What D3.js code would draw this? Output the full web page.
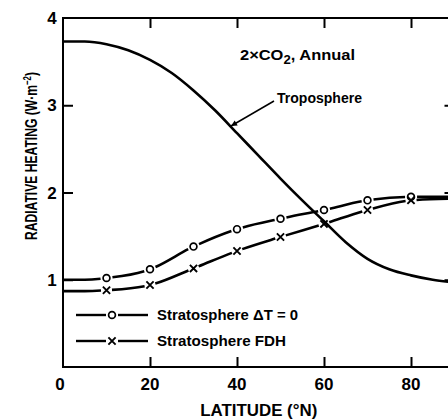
<!DOCTYPE html>
<html>
<head>
<meta charset="utf-8">
<script src="https://cdn.jsdelivr.net/npm/d3@7"></script>
<style>
  html, body { margin: 0; padding: 0; background: #fff; }
  svg { display: block; }
  text { font-family: "Liberation Sans", Arial, sans-serif; font-weight: bold; fill: #000; }
</style>
</head>
<body>
<svg id="chart" width="448" height="419"></svg>
<script>
// ---- data ----
const tropoLat = [0, 5, 10, 15, 20, 25, 30, 35, 40, 45, 50, 55, 60, 65, 70, 75, 80, 85, 90];
const tropoVal = [3.73, 3.73, 3.70, 3.63, 3.52, 3.37, 3.17, 2.94, 2.68, 2.42, 2.16, 1.91, 1.67, 1.43, 1.24, 1.12, 1.05, 1.00, 0.97];

const stratLat = [0, 5, 10, 20, 30, 40, 50, 60, 70, 80, 90];
const stratDT0 = [1.00, 1.00, 1.02, 1.12, 1.38, 1.58, 1.70, 1.80, 1.91, 1.95, 1.95];
const stratFDH = [0.87, 0.87, 0.88, 0.94, 1.13, 1.33, 1.49, 1.64, 1.80, 1.91, 1.93];
const markerLat = [10, 20, 30, 40, 50, 60, 70, 80];

const xTicks = [0, 20, 40, 60, 80];
const yTicks = [1, 2, 3, 4];
const legendLabels = ["Stratosphere \u0394T = 0", "Stratosphere FDH"];

// ---- layout ----
const svg = d3.select("#chart");
const mLeft = 63, mTop = 18, mRight = 454.5, mBottom = 367;
const x = d3.scaleLinear().domain([0, 90]).range([mLeft, mRight]);
const y = d3.scaleLinear().domain([0, 4]).range([mBottom, mTop]);

// frame
svg.append("rect").attr("x", mLeft).attr("y", mTop).attr("width", mRight - mLeft).attr("height", mBottom - mTop)
  .attr("stroke", "#000").attr("stroke-width", 2).attr("fill", "none");

// inward ticks via d3 axes
const tl = 10;
function styleTicks(g) { g.select(".domain").remove(); g.selectAll("line").attr("stroke-width", 2); }
svg.append("g").attr("transform", `translate(0,${mBottom})`)
  .call(d3.axisTop(x).tickValues(xTicks.filter(d => d > 0)).tickSize(tl).tickFormat(""))
  .call(styleTicks);
svg.append("g").attr("transform", `translate(0,${mTop})`)
  .call(d3.axisBottom(x).tickValues(xTicks.filter(d => d > 0)).tickSize(tl).tickFormat(""))
  .call(styleTicks);
svg.append("g").attr("transform", `translate(${mLeft},0)`)
  .call(d3.axisRight(y).tickValues(yTicks.filter(d => d < 4)).tickSize(tl).tickFormat(""))
  .call(styleTicks);
svg.append("g").attr("transform", `translate(${mRight},0)`)
  .call(d3.axisLeft(y).tickValues(yTicks.filter(d => d < 4)).tickSize(tl).tickFormat(""))
  .call(styleTicks);

// tick labels
svg.append("g").selectAll("text").data(xTicks).join("text")
  .attr("x", d => x(d) - (d === 0 ? 3 : 0)).attr("y", 390)
  .attr("text-anchor", "middle").attr("font-size", 17).text(d => d);
svg.append("g").selectAll("text").data(yTicks).join("text")
  .attr("x", 52).attr("y", d => y(d) + 6)
  .attr("text-anchor", "middle").attr("font-size", 17).text(d => d);

// axis titles
svg.append("text").attr("x", (mLeft + mRight) / 2).attr("y", 416)
  .attr("text-anchor", "middle").attr("font-size", 17)
  .attr("textLength", 117).attr("lengthAdjust", "spacingAndGlyphs")
  .text("LATITUDE (\u00B0N)");
const yt = svg.append("text").attr("transform", "translate(37,156) rotate(-90)")
  .attr("text-anchor", "middle").attr("font-size", 17)
  .attr("textLength", 168).attr("lengthAdjust", "spacingAndGlyphs");
yt.append("tspan").text("RADIATIVE HEATING (W\u00B7m");
yt.append("tspan").attr("dy", -6).attr("font-size", 11).text("\u22122");
yt.append("tspan").attr("dy", 6).text(")");

// curves
const line = d3.line().x(d => x(d[0])).y(d => y(d[1])).curve(d3.curveMonotoneX);

svg.append("path").datum(d3.zip(tropoLat, tropoVal))
  .attr("d", line).attr("fill", "none").attr("stroke", "#000").attr("stroke-width", 2.6);

function gapDash(node, lats, gap) {
  const total = node.getTotalLength();
  const Ls = lats.map(lat => {
    const tx = x(lat);
    let lo = 0, hi = total;
    for (let i = 0; i < 40; i++) {
      const mid = (lo + hi) / 2;
      if (node.getPointAtLength(mid).x < tx) lo = mid; else hi = mid;
    }
    return (lo + hi) / 2;
  });
  const arr = [];
  let pos = 0;
  Ls.forEach(L => { arr.push(Math.max(0, L - gap - pos), 2 * gap); pos = L + gap; });
  arr.push(Math.max(0, total - pos), 0);
  return arr.join(",");
}

function interp(lats, vals, lat) {
  const i = d3.bisectLeft(lats, lat);
  if (lats[i] === lat) return vals[i];
  const t = (lat - lats[i - 1]) / (lats[i] - lats[i - 1]);
  return vals[i - 1] + t * (vals[i] - vals[i - 1]);
}

function circleMark(g, cx, cy) {
  g.append("circle").attr("cx", cx).attr("cy", cy).attr("r", 3.4)
    .attr("fill", "#fff").attr("stroke", "#000").attr("stroke-width", 1.7);
}
function crossMark(g, cx, cy) {
  const s = 3.6;
  g.append("path").attr("d", `M${cx - s},${cy - s}L${cx + s},${cy + s}M${cx - s},${cy + s}L${cx + s},${cy - s}`)
    .attr("stroke", "#000").attr("stroke-width", 1.9).attr("fill", "none");
}

[[stratDT0, circleMark, 6], [stratFDH, crossMark, 5.5]].forEach(([vals, mark, gap]) => {
  const p = svg.append("path").datum(d3.zip(stratLat, vals))
    .attr("d", line).attr("fill", "none").attr("stroke", "#000").attr("stroke-width", 2.6);
  p.attr("stroke-dasharray", gapDash(p.node(), markerLat, gap));
  const g = svg.append("g");
  markerLat.forEach(lat => mark(g, x(lat), y(interp(stratLat, vals, lat))));
});

// annotations
const ann = svg.append("text").attr("x", 240).attr("y", 60).attr("font-size", 15)
  .attr("textLength", 115).attr("lengthAdjust", "spacingAndGlyphs");
ann.append("tspan").text("2\u00D7CO");
ann.append("tspan").attr("dy", 4).attr("font-size", 12).text("2");
ann.append("tspan").attr("dy", -4).text(", Annual");

svg.append("text").attr("x", 277).attr("y", 103).attr("font-size", 15)
  .attr("textLength", 85).attr("lengthAdjust", "spacingAndGlyphs").text("Troposphere");
svg.append("defs").append("marker").attr("id", "ah")
  .attr("viewBox", "0 0 10 10").attr("refX", 10).attr("refY", 5)
  .attr("markerWidth", 10).attr("markerHeight", 6).attr("markerUnits", "userSpaceOnUse")
  .attr("orient", "auto")
  .append("path").attr("d", "M0,0L10,5L0,10z").attr("fill", "#000");
svg.append("line").attr("x1", 274).attr("y1", 101).attr("x2", 231).attr("y2", 126)
  .attr("stroke", "#000").attr("stroke-width", 1.5).attr("marker-end", "url(#ah)");

// legend
const legY = [315, 341];
const leg = svg.append("g");
legendLabels.forEach((lab, i) => {
  leg.append("line").attr("x1", 76).attr("x2", 106).attr("y1", legY[i]).attr("y2", legY[i])
    .attr("stroke", "#000").attr("stroke-width", 2.4);
  leg.append("line").attr("x1", 118).attr("x2", 148).attr("y1", legY[i]).attr("y2", legY[i])
    .attr("stroke", "#000").attr("stroke-width", 2.4);
  (i === 0 ? circleMark : crossMark)(leg, 112, legY[i]);
  leg.append("text").attr("x", 157).attr("y", legY[i] + 5).attr("font-size", 15)
    .attr("textLength", i === 0 ? 141 : 129).attr("lengthAdjust", "spacingAndGlyphs").text(lab);
});
</script>
</body>
</html>
